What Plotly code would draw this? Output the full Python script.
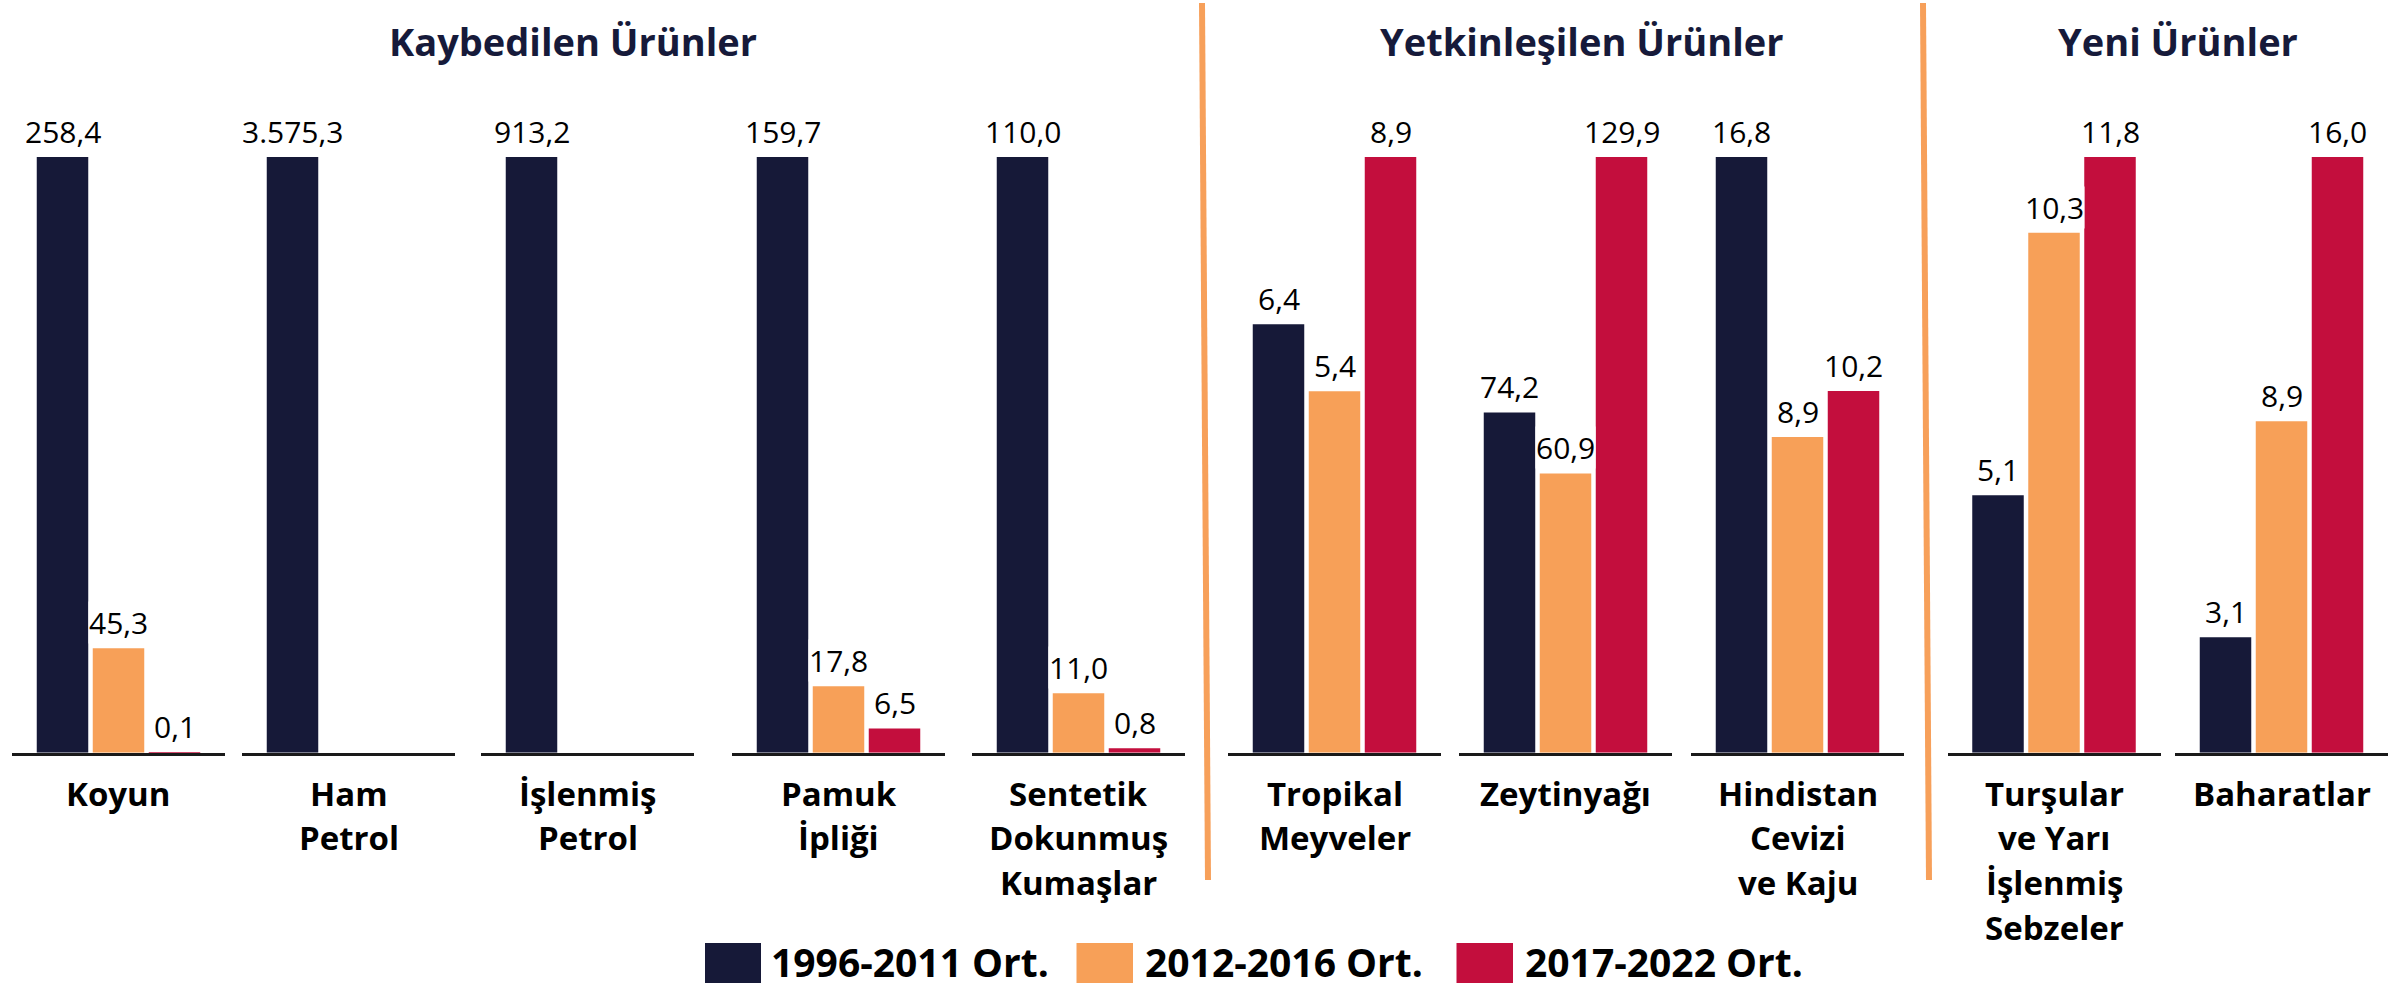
import plotly.graph_objects as go

# ---------------- data ----------------
categories = [
    "Koyun", "Ham<br>Petrol", "İşlenmiş<br>Petrol", "Pamuk<br>İpliği",
    "Sentetik<br>Dokunmuş<br>Kumaşlar", "Tropikal<br>Meyveler", "Zeytinyağı",
    "Hindistan<br>Cevizi<br>ve Kaju", "Turşular<br>ve Yarı<br>İşlenmiş<br>Sebzeler",
    "Baharatlar",
]
series_names = ["1996-2011 Ort.", "2012-2016 Ort.", "2017-2022 Ort."]
v_1996_2011 = [258.4, 3575.3, 913.2, 159.7, 110.0, 6.4, 74.2, 16.8, 5.1, 3.1]
v_2012_2016 = [45.3, None, None, 17.8, 11.0, 5.4, 60.9, 8.9, 10.3, 8.9]
v_2017_2022 = [0.1, None, None, 6.5, 0.8, 8.9, 129.9, 10.2, 11.8, 16.0]
section_titles = ["Kaybedilen Ürünler", "Yetkinleşilen Ürünler", "Yeni Ürünler"]

# ---------------- style / layout ----------------
W, H = 2405, 988
colors = ["#161938", "#f7a058", "#c30e3d"]
sep_color = "#f7a05a"
navy = "#161a3a"
FONT = "Open Sans"

group_left_px = [12, 242, 481, 732, 972, 1228, 1459, 1691, 1947.5, 2175]
group_w_px = 213
pitch_px = 56.0
bar_w_px = 51.5
plot_top_px = 157
plot_bot_px = 752.7

def px_x(p):
    return p / W

def px_y(p):
    return 1 - p / H

def fmt(v):
    s = f"{v:,.1f}"
    return s.replace(",", "X").replace(".", ",").replace("X", ".")

series = [v_1996_2011, v_2012_2016, v_2017_2022]
half_units = group_w_px / pitch_px / 2

fig = go.Figure()
annotations = []
shapes = []
layout_axes = {}

for i, cat in enumerate(categories):
    n = i + 1
    xa = "x" if n == 1 else f"x{n}"
    ya = "y" if n == 1 else f"y{n}"
    vals = [s[i] for s in series]
    vmax = max(v for v in vals if v is not None)
    for j, v in enumerate(vals):
        if v is None:
            continue
        fig.add_trace(go.Bar(
            x=[j], y=[v], xaxis=xa, yaxis=ya, name=series_names[j],
            marker=dict(color=colors[j], line=dict(width=0)),
            width=bar_w_px / pitch_px, showlegend=False,
            hovertemplate=f"{cat.replace('<br>', ' ')}<br>{series_names[j]}: {fmt(v)}<extra></extra>",
        ))
        annotations.append(dict(
            x=j, y=v, xref=xa, yref=ya, text=fmt(v), showarrow=False,
            yanchor="bottom", xanchor="center", yshift=4,
            font=dict(family=FONT, size=30, color="#000000"),
            bgcolor="#ffffff", borderpad=0,
        ))
    left = group_left_px[i]
    layout_axes[f"xaxis{n if n > 1 else ''}"] = dict(
        domain=[px_x(left), px_x(left + group_w_px)],
        range=[1 - half_units, 1 + half_units],
        anchor=ya, showline=True, linecolor="#1a1a1a", linewidth=3,
        showgrid=False, zeroline=False, showticklabels=False, ticks="",
        fixedrange=True,
    )
    layout_axes[f"yaxis{n if n > 1 else ''}"] = dict(
        domain=[px_y(plot_bot_px), px_y(plot_top_px)],
        range=[0, vmax], anchor=xa, visible=False, fixedrange=True,
    )
    # category label lines
    for k, line in enumerate(cat.split("<br>")):
        annotations.append(dict(
            x=px_x(left + group_w_px / 2), y=px_y(793 + 44.7 * k),
            xref="paper", yref="paper", text=f"<b>{line}</b>", showarrow=False,
            xanchor="center", yanchor="middle",
            font=dict(family=FONT, size=33, color="#000000"),
        ))

# section titles
title_centers = [573, 1581, 2178]
for t, cx in zip(section_titles, title_centers):
    annotations.append(dict(
        x=px_x(cx), y=px_y(41), xref="paper", yref="paper",
        text=f"<b>{t}</b>", showarrow=False, xanchor="center", yanchor="middle",
        font=dict(family=FONT, size=38, color=navy),
    ))

# separators
for (xt, xb) in [(1202, 1208), (1923, 1929)]:
    shapes.append(dict(
        type="line", xref="paper", yref="paper",
        x0=px_x(xt), y0=px_y(3), x1=px_x(xb), y1=px_y(880),
        line=dict(color=sep_color, width=6),
    ))

# legend (drawn)
legend_sq = [(705, 761), (1076.5, 1133), (1456.5, 1513)]
legend_tx = [770, 1144, 1524]
for j, name in enumerate(series_names):
    x0, x1 = legend_sq[j]
    shapes.append(dict(
        type="rect", xref="paper", yref="paper",
        x0=px_x(x0), x1=px_x(x1), y0=px_y(983), y1=px_y(943),
        fillcolor=colors[j], line=dict(width=0),
    ))
    annotations.append(dict(
        x=px_x(legend_tx[j]), y=px_y(961), xref="paper", yref="paper",
        text=f"<b>{name}</b>", showarrow=False, xanchor="left", yanchor="middle",
        font=dict(family=FONT, size=39, color="#000000"), borderpad=0,
    ))

fig.update_layout(
    width=W, height=H, margin=dict(l=0, r=0, t=0, b=0),
    paper_bgcolor="#ffffff", plot_bgcolor="#ffffff",
    barmode="overlay", showlegend=False,
    annotations=annotations, shapes=shapes,
    font=dict(family=FONT),
    **layout_axes,
)

fig.write_html(
    "out.html",
    config={"displayModeBar": False},
    post_script="document.body.style.margin='0';document.body.style.overflow='hidden';",
)
